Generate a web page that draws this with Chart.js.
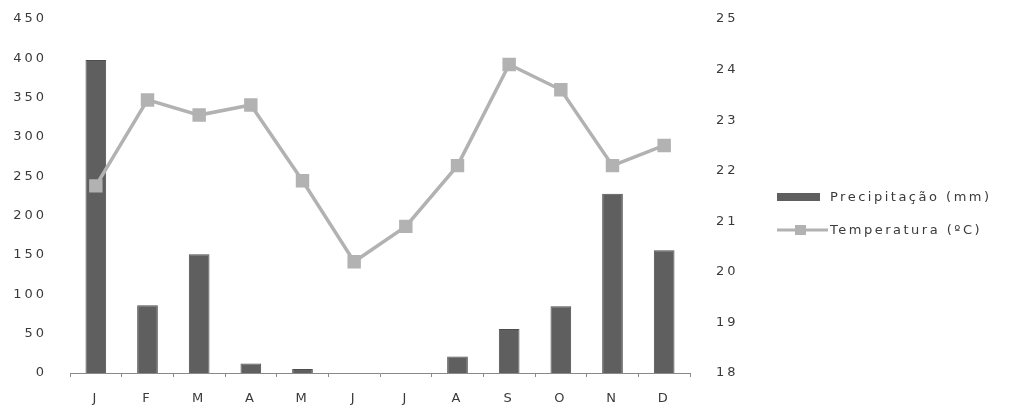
<!DOCTYPE html>
<html>
<head>
<meta charset="utf-8">
<script src="https://cdn.jsdelivr.net/npm/chart.js@4"></script>
<style>
  html, body { margin: 0; padding: 0; background: #fff; }
  #wrap { width: 1011px; height: 408px; position: relative; }
</style>
</head>
<body>
<div id="wrap"><canvas id="c" width="1011" height="408"></canvas></div>
<script>
// Monthly climate data: rainfall bars (left axis) and temperature line (right axis)
const months = ['J', 'F', 'M', 'A', 'M', 'J', 'J', 'A', 'S', 'O', 'N', 'D'];
const precipitation = [398, 86, 151, 12, 5, 0, 0, 21, 56, 85, 228, 156];
const temperature = [21.7, 23.4, 23.1, 23.3, 21.8, 20.2, 20.9, 22.1, 24.1, 23.6, 22.1, 22.5];
const precipLabel = 'Precipitação (mm)';
const tempLabel = 'Temperatura (ºC)';

const FONT = 'DejaVu Sans';
const TEXT = '#3a3a3a';
const BAR = '#5f5f5f';
const LINE = '#b2b2b2';
const SPACING = '3px';

// Wide letter spacing for all canvas text
const spacing = {
  id: 'spacing',
  beforeInit(chart) { chart.ctx.letterSpacing = SPACING; },
  beforeLayout(chart) { chart.ctx.letterSpacing = SPACING; },
  beforeDraw(chart) { chart.ctx.letterSpacing = SPACING; }
};

// Legend drawn to the right of the secondary axis: bars first, then the line
const sideLegend = {
  id: 'sideLegend',
  afterDraw(chart) {
    const ctx = chart.ctx;
    const ds = chart.data.datasets.slice().sort((a, b) => (a.type === 'bar' ? -1 : 1));
    const x0 = 777, boxW = 43;
    const rows = [197, 230];
    ctx.save();
    ctx.letterSpacing = '2.5px';
    ctx.font = '13px "' + FONT + '"';
    ctx.textBaseline = 'middle';
    ds.forEach((d, i) => {
      const y = rows[i];
      if (d.type === 'bar') {
        ctx.fillStyle = d.backgroundColor;
        ctx.fillRect(x0, y - 4, boxW, 8);
      } else {
        ctx.strokeStyle = d.borderColor;
        ctx.lineWidth = 3;
        ctx.beginPath();
        ctx.moveTo(x0, y);
        ctx.lineTo(x0 + boxW + 8, y);
        ctx.stroke();
        ctx.fillStyle = d.pointBackgroundColor;
        ctx.fillRect(x0 + 18, y - 5, 11, 10);
      }
      ctx.fillStyle = TEXT;
      ctx.fillText(d.label, 830, y + 1);
    });
    ctx.restore();
  }
};

// Vertical scales keep no extra top padding so the plot starts at the layout padding
function fitY(width) {
  return function (s) { s.width = width; s.paddingTop = 0; };
}

new Chart(document.getElementById('c'), {
  data: {
    labels: months,
    datasets: [
      {
        type: 'line',
        label: tempLabel,
        data: temperature,
        yAxisID: 'y1',
        borderColor: LINE,
        borderWidth: 3.5,
        pointStyle: 'rect',
        pointRadius: 9.5,
        pointBackgroundColor: LINE,
        pointBorderColor: LINE,
        pointBorderWidth: 0,
        tension: 0,
        order: 0
      },
      {
        type: 'bar',
        label: precipLabel,
        data: precipitation,
        yAxisID: 'y',
        backgroundColor: BAR,
        borderColor: '#4e4e4e',
        borderWidth: 1,
        categoryPercentage: 1,
        barPercentage: 0.4,
        order: 1
      }
    ]
  },
  options: {
    responsive: false,
    animation: false,
    layout: { padding: { top: 19, right: 261, bottom: 0, left: 0 } },
    plugins: { legend: { display: false }, tooltip: { enabled: false } },
    scales: {
      x: {
        offset: true,
        grid: { display: true, drawOnChartArea: false, offset: true, tickLength: 4, color: '#8a8a8a' },
        border: { display: true, color: '#8a8a8a', width: 1 },
        ticks: { color: TEXT, font: { family: FONT, size: 13 }, padding: 14 },
        afterFit(s) { s.height = 35; }
      },
      y: {
        position: 'left',
        min: 0, max: 450,
        ticks: { stepSize: 50, color: TEXT, font: { family: FONT, size: 13 }, padding: 15 },
        grid: { display: false },
        border: { display: false },
        afterFit: fitY(70)
      },
      y1: {
        position: 'right',
        min: 18, max: 25,
        ticks: { stepSize: 1, color: TEXT, font: { family: FONT, size: 13 }, padding: 18 },
        grid: { display: false },
        border: { display: false },
        afterFit: fitY(60)
      }
    }
  },
  plugins: [spacing, sideLegend]
});
</script>
</body>
</html>
